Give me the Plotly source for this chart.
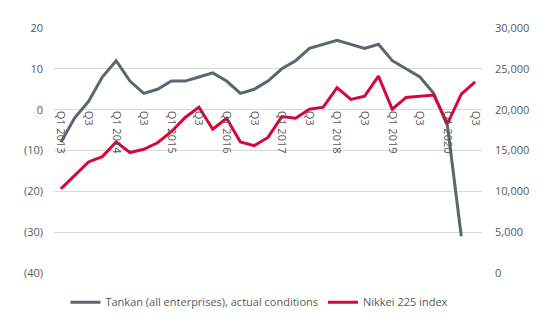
import plotly.graph_objects as go

quarters = []
for yr in range(2013, 2021):
    for q in range(1, 5):
        quarters.append(f"Q{q} {yr}")
quarters = quarters[:31]  # Q1 2013 .. Q3 2020

tick_labels = [("Q1 " + q.split(" ")[1]) if q.startswith("Q1") else "Q3"
               for q in quarters[::2]]

tankan = [-8, -2, 2, 8, 12, 7, 4, 5, 7, 7, 8, 9, 7, 4, 5, 7,
          10, 12, 15, 16, 17, 16, 15, 16, 12, 10, 8, 4, -4, -31]

nikkei = [10300, 12000, 13600, 14250, 16050, 14750, 15150, 15950,
          17300, 19050, 20300, 17600, 18950, 16050, 15600, 16600,
          19150, 18950, 20050, 20300, 22700, 21250, 21650, 24100,
          20050, 21500, 21650, 21800, 18300, 21900, 23400]

left_vals = [-40, -30, -20, -10, 0, 10, 20]
left_text = ["(40)", "(30)", "(20)", "(10)", "0", "10", "20"]
right_vals = [0, 5000, 10000, 15000, 20000, 25000, 30000]

FONT = "Open Sans"
TXT = "#595959"

fig = go.Figure()
fig.add_trace(go.Scatter(
    x=list(range(len(tankan))), y=tankan, mode="lines",
    name="Tankan (all enterprises), actual conditions",
    line=dict(color="#5a6670", width=3), yaxis="y", xaxis="x"))
fig.add_trace(go.Scatter(
    x=list(range(len(nikkei))), y=nikkei, mode="lines",
    name="Nikkei 225 index",
    line=dict(color="#d6083b", width=3), yaxis="y2", xaxis="x"))

fig.update_layout(
    width=550, height=330,
    margin=dict(l=54, r=68, t=28, b=57),
    paper_bgcolor="white", plot_bgcolor="white",
    font=dict(family=FONT, size=11, color=TXT),
    showlegend=True,
    legend=dict(orientation="h", x=0.48, xanchor="center", y=-0.06, yanchor="top",
                font=dict(size=11, color=TXT), itemwidth=30, tracegroupgap=0),
    xaxis=dict(range=[-0.5, len(quarters) - 0.5],
               tickmode="array",
               tickvals=list(range(0, len(quarters), 2)),
               ticktext=tick_labels,
               tickangle=90, showgrid=False, zeroline=False, showline=False,
               ticks="", anchor="free", position=2/3,
               tickfont=dict(size=11, color=TXT)),
    yaxis=dict(range=[-40, 20], tickmode="array", tickvals=left_vals,
               ticktext=left_text, showgrid=True, gridcolor="#d9d9d9",
               gridwidth=1, zeroline=False, showline=False, ticks="",
               ticklabelstandoff=10, domain=[0, 1]),
    yaxis2=dict(range=[0, 30000], tickmode="array", tickvals=right_vals,
                tickformat=",d", overlaying="y", side="right",
                showgrid=False, zeroline=False, showline=False, ticks="",
                ticklabelstandoff=12),
)

fig.write_html("out.html")
